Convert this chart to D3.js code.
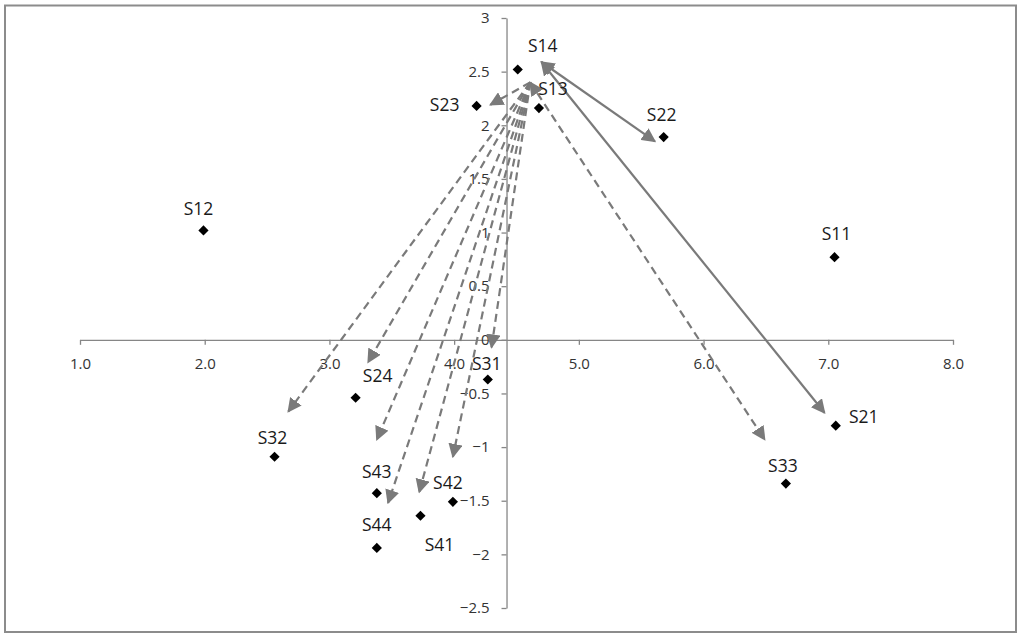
<!DOCTYPE html>
<html>
<head>
<meta charset="utf-8">
<script src="https://cdn.jsdelivr.net/npm/d3@7"></script>
<style>
  html, body { margin: 0; padding: 0; background: #fff; }
  svg { display: block; }
</style>
</head>
<body>
<svg id="chart" width="1024" height="639"></svg>
<script>
// ---- Data ----
const pointNames = ["S11","S12","S13","S14","S21","S22","S23","S24","S31","S32","S33","S41","S42","S43","S44"];
const pointX     = [7.05, 1.99, 4.68, 4.51, 7.06, 5.68, 4.18, 3.21, 4.27, 2.56, 6.66, 3.73, 3.99, 3.38, 3.38];
const pointY     = [0.77, 1.02, 2.16, 2.52, -0.80, 1.89, 2.18, -0.54, -0.37, -1.09, -1.34, -1.64, -1.51, -1.43, -1.94];

// arrows: start (x,y) -> end (x,y), solid or dashed
const arrowNames  = ["S22","S21","S23","S24","S32","S43","S44","S41","S42","S31","S33"];
const arrowX1     = [4.70, 4.70, 4.61, 4.61, 4.61, 4.61, 4.61, 4.61, 4.61, 4.61, 4.61];
const arrowY1     = [2.59, 2.59, 2.40, 2.40, 2.40, 2.40, 2.40, 2.40, 2.40, 2.40, 2.40];
const arrowX2     = [5.61, 6.97, 4.29, 3.31, 2.67, 3.38, 3.47, 3.72, 3.99, 4.30, 6.49];
const arrowY2     = [1.85, -0.68, 2.19, -0.21, -0.67, -0.93, -1.52, -1.42, -1.09, -0.07, -0.93];
const arrowSolid  = [true, true, false, false, false, false, false, false, false, false, false];
const arrowBothHeads = [true, true, false, false, false, false, false, false, false, false, true];

const xTicks = [1, 2, 3, 4, 5, 6, 7, 8];
const yTicks = [-2.5, -2, -1.5, -1, -0.5, 0, 0.5, 1, 1.5, 2, 2.5, 3];
const yAxisCrossX = 4.42;

// ---- Layout (label offsets in px, relative to the marker) ----
const labelOffset = {
  S11:[2,-23], S12:[-5,-22], S13:[14,-19], S14:[25,-24], S21:[28,-9], S22:[-2,-22],
  S23:[-32,-1], S24:[22,-22], S31:[-1,-16], S32:[-2,-19], S33:[-3,-18],
  S41:[19,29], S42:[-5,-19], S43:[0,-21], S44:[0,-23]
};

const svg = d3.select("#chart");
const W = 1024, H = 639;
svg.append("rect").attr("x",0).attr("y",0).attr("width",W).attr("height",H).attr("fill","#fff");
// outer border
svg.append("rect").attr("x",5).attr("y",5.5).attr("width",1011).attr("height",626.5)
  .attr("fill","none").attr("stroke","#8c8c8c").attr("stroke-width",2);

const x = d3.scaleLinear().domain([1, 8]).range([80, 953]);
const y = d3.scaleLinear().domain([-2.5, 3]).range([608, 18]);

const axisColor = "#868686";
const font = "'Open Sans', 'Noto Sans', sans-serif";

// X axis at y=0
const gx = svg.append("g").attr("transform", `translate(0,${y(0)})`)
  .call(d3.axisBottom(x).tickValues(xTicks).tickFormat(d3.format(".1f")).tickSize(5).tickSizeOuter(0).tickPadding(14));
// Y axis at x=yAxisCrossX
const gy = svg.append("g").attr("transform", `translate(${x(yAxisCrossX)},0)`)
  .call(d3.axisLeft(y).tickValues(yTicks).tickFormat(d => d3.format("")(d)).tickSize(5).tickSizeOuter(0).tickPadding(12));

[gx, gy].forEach(g => {
  g.select(".domain").attr("stroke", axisColor).attr("stroke-width", 1.3);
  g.selectAll(".tick line").attr("stroke", axisColor).attr("stroke-width", 1.3);
  g.selectAll(".tick text").attr("fill", "#333").style("font-family", font).style("font-size", "15px");
});
gx.selectAll(".tick text").attr("dy", "0.71em");
gy.selectAll(".tick text").attr("dy", "0.32em");

// arrowheads
const defs = svg.append("defs");
defs.append("marker").attr("id","headEnd").attr("viewBox","0 0 10 10")
  .attr("refX",9).attr("refY",5).attr("markerWidth",6.5).attr("markerHeight",6.5)
  .attr("markerUnits","strokeWidth").attr("orient","auto")
  .append("path").attr("d","M0,0 L10,5 L0,10 Z").attr("fill","#7a7a7a");
defs.append("marker").attr("id","headStart").attr("viewBox","0 0 10 10")
  .attr("refX",1).attr("refY",5).attr("markerWidth",6.5).attr("markerHeight",6.5)
  .attr("markerUnits","strokeWidth").attr("orient","auto")
  .append("path").attr("d","M10,0 L0,5 L10,10 Z").attr("fill","#7a7a7a");

const arrows = arrowNames.map((n, i) => ({
  n, x1: arrowX1[i], y1: arrowY1[i], x2: arrowX2[i], y2: arrowY2[i],
  solid: arrowSolid[i], both: arrowBothHeads[i]
}));

svg.append("g").selectAll("line").data(arrows).join("line")
  .attr("x1", d => x(d.x1)).attr("y1", d => y(d.y1))
  .attr("x2", d => x(d.x2)).attr("y2", d => y(d.y2))
  .attr("stroke", "#7a7a7a").attr("stroke-width", 2.2)
  .attr("stroke-dasharray", d => d.solid ? null : "8,5")
  .attr("marker-end", "url(#headEnd)")
  .attr("marker-start", d => d.both ? "url(#headStart)" : null);

// points
const pts = pointNames.map((n, i) => ({ n, x: pointX[i], y: pointY[i] }));
const sym = d3.symbol().type(d3.symbolSquare).size(52);
svg.append("g").selectAll("path").data(pts).join("path")
  .attr("d", sym)
  .attr("transform", d => `translate(${x(d.x)},${y(d.y)}) rotate(45)`)
  .attr("fill", "#000");

svg.append("g").selectAll("text").data(pts).join("text")
  .attr("x", d => x(d.x) + labelOffset[d.n][0])
  .attr("y", d => y(d.y) + labelOffset[d.n][1])
  .attr("dy", "0.35em")
  .attr("text-anchor", "middle")
  .attr("fill", "#1a1a1a")
  .style("font-family", font).style("font-size", "17.5px")
  .text(d => d.n);
</script>
</body>
</html>
